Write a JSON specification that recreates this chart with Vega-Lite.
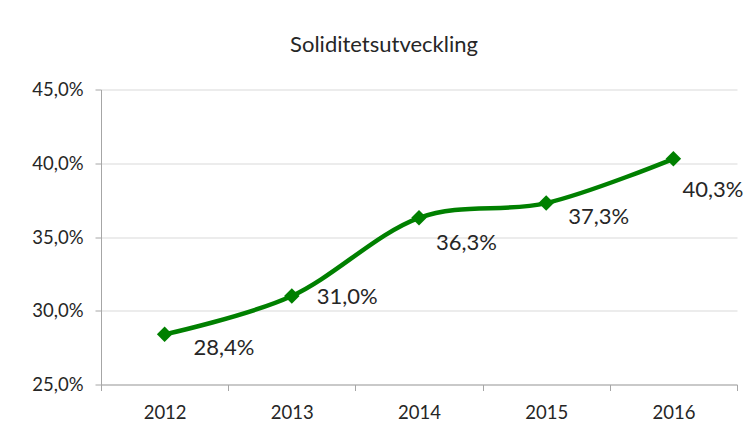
{
  "$schema": "https://vega.github.io/schema/vega-lite/v6.json",
  "autosize": "none",
  "width": 636,
  "height": 295,
  "padding": {"left": 101, "top": 89.5, "right": 18, "bottom": 49.5},
  "background": "white",
  "config": {
    "locale": {"number": {"decimal": ",", "thousands": " ", "grouping": [3], "currency": ["", " kr"]}},
    "view": {"stroke": null},
    "font": "Lato"
  },
  "title": {
    "text": "Soliditetsutveckling",
    "anchor": "middle",
    "fontSize": 22,
    "fontWeight": "normal",
    "font": "Lato",
    "color": "#262626",
    "baseline": "alphabetic",
    "offset": 7,
    "dx": -35
  },
  "data": {
    "values": [
      {"year": 2012, "value": 0.284},
      {"year": 2013, "value": 0.310},
      {"year": 2014, "value": 0.363},
      {"year": 2015, "value": 0.373},
      {"year": 2016, "value": 0.403}
    ]
  },
  "resolve": {"axis": {"x": "independent"}},
  "encoding": {
    "y": {
      "field": "value",
      "type": "quantitative",
      "scale": {"domain": [0.25, 0.45], "nice": false, "zero": false},
      "axis": {
        "values": [0.25, 0.30, 0.35, 0.40, 0.45],
        "format": ".1%",
        "title": null,
        "gridColor": "#d9d9d9",
        "domainColor": "#a6a6a6",
        "tickColor": "#a6a6a6",
        "tickSize": 6,
        "labelPadding": 12,
        "labelFontSize": 18.5,
        "labelColor": "#262626",
        "labelFont": "Lato"
      }
    }
  },
  "layer": [
    {
      "mark": {"type": "line", "interpolate": "cardinal", "tension": 0, "color": "#008000", "strokeWidth": 4.5},
      "encoding": {
        "x": {
          "field": "year",
          "type": "quantitative",
          "scale": {"domain": [2011.5, 2016.5], "nice": false, "zero": false},
          "axis": {
            "orient": "bottom",
            "values": [2011.5, 2012.5, 2013.5, 2014.5, 2015.5, 2016.5],
            "labels": false,
            "title": null,
            "grid": false,
            "domainColor": "#a6a6a6",
            "tickColor": "#a6a6a6",
            "tickSize": 6
          }
        }
      }
    },
    {
      "mark": {"type": "point", "shape": "diamond", "filled": true, "size": 240, "color": "#008000", "opacity": 1},
      "encoding": {
        "x": {
          "field": "year",
          "type": "quantitative",
          "scale": {"domain": [2011.5, 2016.5], "nice": false, "zero": false},
          "axis": {
            "orient": "bottom",
            "values": [2012, 2013, 2014, 2015, 2016],
            "format": "d",
            "ticks": false,
            "domain": false,
            "grid": false,
            "title": null,
            "labelPadding": 19,
            "labelFontSize": 18.5,
            "labelColor": "#262626",
            "labelFont": "Lato"
          }
        }
      }
    },
    {
      "transform": [{"filter": "datum.year == 2012"}],
      "mark": {"type": "text", "align": "left", "baseline": "middle", "dx": 29, "dy": 14, "fontSize": 22, "color": "#262626"},
      "encoding": {"x": {"field": "year", "type": "quantitative", "axis": null}, "text": {"field": "value", "type": "quantitative", "format": ".1%"}}
    },
    {
      "transform": [{"filter": "datum.year == 2013"}],
      "mark": {"type": "text", "align": "left", "baseline": "middle", "dx": 25, "dy": 1, "fontSize": 22, "color": "#262626"},
      "encoding": {"x": {"field": "year", "type": "quantitative", "axis": null}, "text": {"field": "value", "type": "quantitative", "format": ".1%"}}
    },
    {
      "transform": [{"filter": "datum.year == 2014"}],
      "mark": {"type": "text", "align": "left", "baseline": "middle", "dx": 17, "dy": 25, "fontSize": 22, "color": "#262626"},
      "encoding": {"x": {"field": "year", "type": "quantitative", "axis": null}, "text": {"field": "value", "type": "quantitative", "format": ".1%"}}
    },
    {
      "transform": [{"filter": "datum.year == 2015"}],
      "mark": {"type": "text", "align": "left", "baseline": "middle", "dx": 22, "dy": 14, "fontSize": 22, "color": "#262626"},
      "encoding": {"x": {"field": "year", "type": "quantitative", "axis": null}, "text": {"field": "value", "type": "quantitative", "format": ".1%"}}
    },
    {
      "transform": [{"filter": "datum.year == 2016"}],
      "mark": {"type": "text", "align": "left", "baseline": "middle", "dx": 9, "dy": 31, "fontSize": 22, "color": "#262626"},
      "encoding": {"x": {"field": "year", "type": "quantitative", "axis": null}, "text": {"field": "value", "type": "quantitative", "format": ".1%"}}
    }
  ]
}
